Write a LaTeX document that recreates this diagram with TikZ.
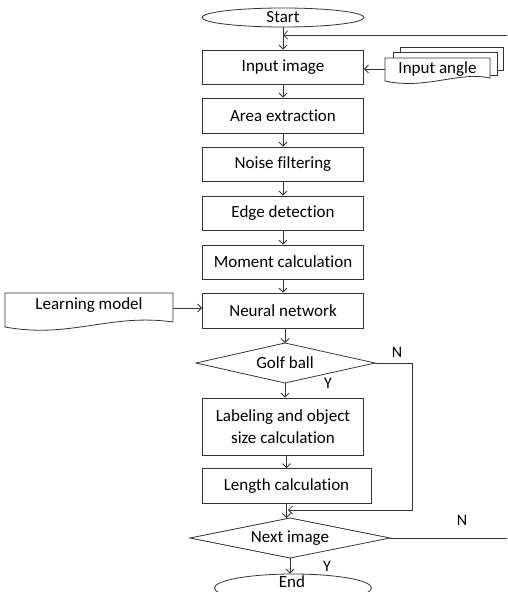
\documentclass[tikz,border=0pt]{standalone}
\usepackage{fontspec}
\setmainfont{Carlito}[Ligatures={NoCommon}]
\usetikzlibrary{arrows.meta,shapes.geometric}
\definecolor{linegray}{HTML}{333333}
\begin{document}
\begin{tikzpicture}[x=1pt,y=-1pt,
  every node/.style={font=\fontsize{17}{22}\selectfont, text=black, inner sep=0pt},
  outline/.style={draw=linegray, line width=0.8pt},
  proc/.style={outline, rectangle, minimum width=161pt, minimum height=34pt, align=center},
  term/.style={outline, ellipse},
  flow/.style={draw=linegray, line width=0.8pt, -{Straight Barb[length=4pt,width=8pt]}},
  plain/.style={draw=linegray, line width=0.8pt},
  lbl/.style={font=\fontsize{16}{18}\selectfont}]
\useasboundingbox (0,0) rectangle (507,592);

% terminals
\node[term, minimum width=162pt, minimum height=19pt] (start) at (283,17.5) {Start};
\node[term, minimum width=157pt, minimum height=28pt] (stop) at (293,588) {};
\node[text depth=0pt] (stoptext) at (292,582) {End};

% main chain of process boxes
\node[proc] (inimg) at (283,67) {Input image};
\node[proc, minimum height=35pt] (area) at (283,115.5) {Area extraction};
\node[proc] (noise) at (283,164) {Noise filtering};
\node[proc] (edge) at (283,213) {Edge detection};
\node[proc] (moment) at (283,262) {Moment calculation};
\node[proc, minimum height=35pt] (neural) at (283,310.5) {Neural network};
\node[proc, minimum height=57pt] (label) at (283,426.5) {Labeling and object\\size calculation};
\node[proc, minimum width=169pt, minimum height=35pt] (length) at (286.5,486) {Length calculation};

% decisions: text node plus corner points of the diamond
\node (golf) at (285,363) {Golf ball};
\coordinate (golfN) at (285,343);
\coordinate (golfS) at (285,383);
\coordinate (golfE) at (375,363);
\coordinate (golfW) at (196,363);
\draw[outline] (golfN) -- (golfE) -- (golfS) -- (golfW) -- cycle;

\node (next) at (290,538) {Next image};
\coordinate (nextN) at (290,518);
\coordinate (nextS) at (290,558);
\coordinate (nextE) at (390,538);
\coordinate (nextW) at (190,538);
\draw[outline] (nextN) -- (nextE) -- (nextS) -- (nextW) -- cycle;

% learning model (document shape)
\node[minimum width=168pt, minimum height=30pt] (learn) at (89,305) {Learning model};
\draw[outline] (5,293) -- (173,293) -- (173,322)
  .. controls (110,313) and (70,339) .. (5,327) -- cycle;

% input angle (multi-document shape)
\draw[outline] (400,52) -- (400,47) -- (503,47) -- (503,70) -- (497,70);
\draw[outline] (393,58) -- (393,52) -- (497,52) -- (497,75) -- (490,75);
\draw[outline, fill=white] (385,58) -- (490,58) -- (490,78)
  .. controls (460,71) and (425,90) .. (385,81) -- cycle;
\node[minimum width=105pt, minimum height=22pt] (angle) at (437.5,69) {Input angle};

% junction points and free ends
\coordinate (loopin) at (507,35);
\coordinate (join1) at (283,35);
\coordinate (join2) at (288,510);
\coordinate (nextout) at (507,538);

% connectors
\draw[flow] (start) -- (inimg);
\draw[flow] (loopin) -- (join1);
\draw[flow] (angle.west) -- (angle.west -| inimg.east);
\draw[flow] (inimg) -- (area);
\draw[flow] (area) -- (noise);
\draw[flow] (noise) -- (edge);
\draw[flow] (edge) -- (moment);
\draw[flow] (moment) -- (neural);
\draw[flow] (learn.east |- 0,308) -- (neural.west |- 0,308);
\draw[flow] (neural.south -| golfN) -- (golfN);
\draw[flow] (golfS) -- (golfS |- label.north);
\draw[flow] (label.south -| length.north) -- (length.north);
\draw[flow] (length.south) -- (length.south |- nextN);
\draw[flow] (golfE) -- (412,363) -- (412,510) -- (join2);
\draw[flow] (nextS) -- (nextS |- stop.north);
\draw[plain] (nextE) -- (nextout);

% branch labels
\node[lbl] at (397,352) {N};
\node[lbl] at (328,383) {Y};
\node[lbl] at (462,520) {N};
\node[lbl] at (327,566) {Y};
\end{tikzpicture}
\end{document}
